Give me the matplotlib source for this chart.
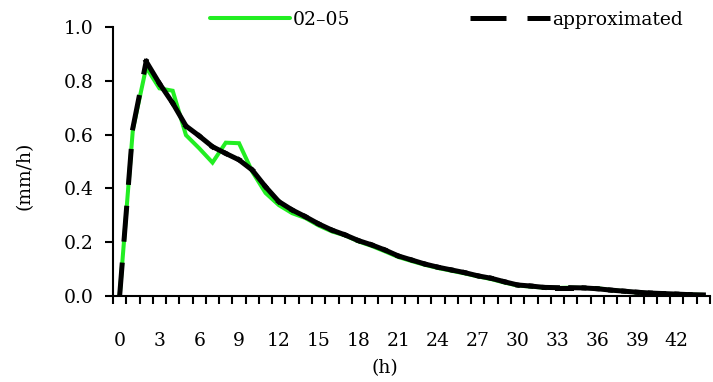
import numpy as np
import matplotlib
matplotlib.use("Agg")
import matplotlib.pyplot as plt
from matplotlib.lines import Line2D
from matplotlib.collections import LineCollection

hours = list(range(45))
observed = [0.0, 0.62, 0.85, 0.772, 0.763, 0.598, 0.549, 0.496, 0.570, 0.568,
            0.462, 0.383, 0.338, 0.308, 0.29, 0.262, 0.24, 0.225, 0.203, 0.186,
            0.166, 0.145, 0.130, 0.116, 0.104, 0.094, 0.084, 0.073, 0.063, 0.050,
            0.039, 0.035, 0.031, 0.030, 0.031, 0.030, 0.029, 0.022, 0.018, 0.013,
            0.010, 0.008, 0.006, 0.005, 0.004]
approximated = [0.0, 0.625, 0.872, 0.79, 0.717, 0.632, 0.595, 0.555, 0.530, 0.506,
                0.468, 0.406, 0.351, 0.320, 0.295, 0.268, 0.245, 0.227, 0.206, 0.190,
                0.171, 0.149, 0.134, 0.119, 0.107, 0.097, 0.087, 0.075, 0.066, 0.053,
                0.041, 0.037, 0.032, 0.031, 0.031, 0.030, 0.027, 0.022, 0.018, 0.014,
                0.011, 0.009, 0.007, 0.005, 0.004]
label_hours = list(range(0, 45, 3))
y_ticks = [0.0, 0.2, 0.4, 0.6, 0.8, 1.0]
series_names = ['02\u201305', 'approximated']

plt.rcParams['font.family'] = ['DejaVu Serif']
FS = 13.5
W, H = 713, 382
fig = plt.figure(figsize=(W / 100, H / 100), dpi=100)
ax = fig.add_axes([113 / W, 1 - 296 / H, 597 / W, 269 / H])

x = np.arange(len(hours))
green_kw = dict(color='#22ee22', lw=2.9, solid_capstyle='round', solid_joinstyle='miter')
black_kw = dict(color='black', lw=3.6, dashes=(7.2, 4.2), dash_capstyle='butt')
ax.plot(x, observed, label=series_names[0], **green_kw)

# dashed approximation: dash pattern restarts at every vertex
pts = np.column_stack([x, approximated])
segs = np.stack([pts[:-1], pts[1:]], axis=1)
lc = LineCollection(segs, colors='black', linewidths=3.6,
                    linestyles=[(0, (6.2, 5.2))], capstyle='projecting', joinstyle='miter')
ax.add_collection(lc)

ax.set_xlim(-0.5, len(hours) - 0.5)
ax.set_ylim(0, 1.0)
ax.set_yticks(y_ticks)
ax.set_yticklabels([f"{v:.1f}" for v in y_ticks], fontsize=FS)
ax.set_xticks(np.arange(-0.5, len(hours), 1.0))
ax.set_xticklabels([])
ax.tick_params(axis='x', which='major', length=5.5, width=1.5, direction='out')
ax.set_xticks(label_hours, minor=True)
ax.set_xticklabels([str(h) for h in label_hours], minor=True, fontsize=FS)
ax.tick_params(axis='x', which='minor', length=0, pad=26)
ax.tick_params(axis='y', length=5.5, width=1.5, direction='out', pad=8.5)

for s in ['top', 'right']:
    ax.spines[s].set_visible(False)
for s in ['left', 'bottom']:
    ax.spines[s].set_linewidth(1.5)

ax.set_ylabel('(mm/h)', fontsize=FS)
ax.yaxis.set_label_coords((25 - 113) / 597, (296 - 176) / 269)
ax.yaxis.label.set_va('center')
ax.set_xlabel('(h)', fontsize=FS)
ax.xaxis.set_label_coords((385 - 113) / 597, (296 - 368) / 269)
ax.xaxis.label.set_va('center')

# legend entries placed separately
h1 = Line2D([], [], **green_kw)
h2 = Line2D([], [], **black_kw)
leg_kw = dict(frameon=False, fontsize=FS, handlelength=80 / 18.75, handletextpad=0.12,
              borderpad=0, borderaxespad=0, loc='center left')
leg1 = fig.legend([h1], [series_names[0]], bbox_to_anchor=(210 / W, 1 - 20 / H), **leg_kw)
leg2 = fig.legend([h2], [series_names[1]], bbox_to_anchor=(470 / W, 1 - 20 / H), **leg_kw)

fig.savefig('out.png', dpi=100)
